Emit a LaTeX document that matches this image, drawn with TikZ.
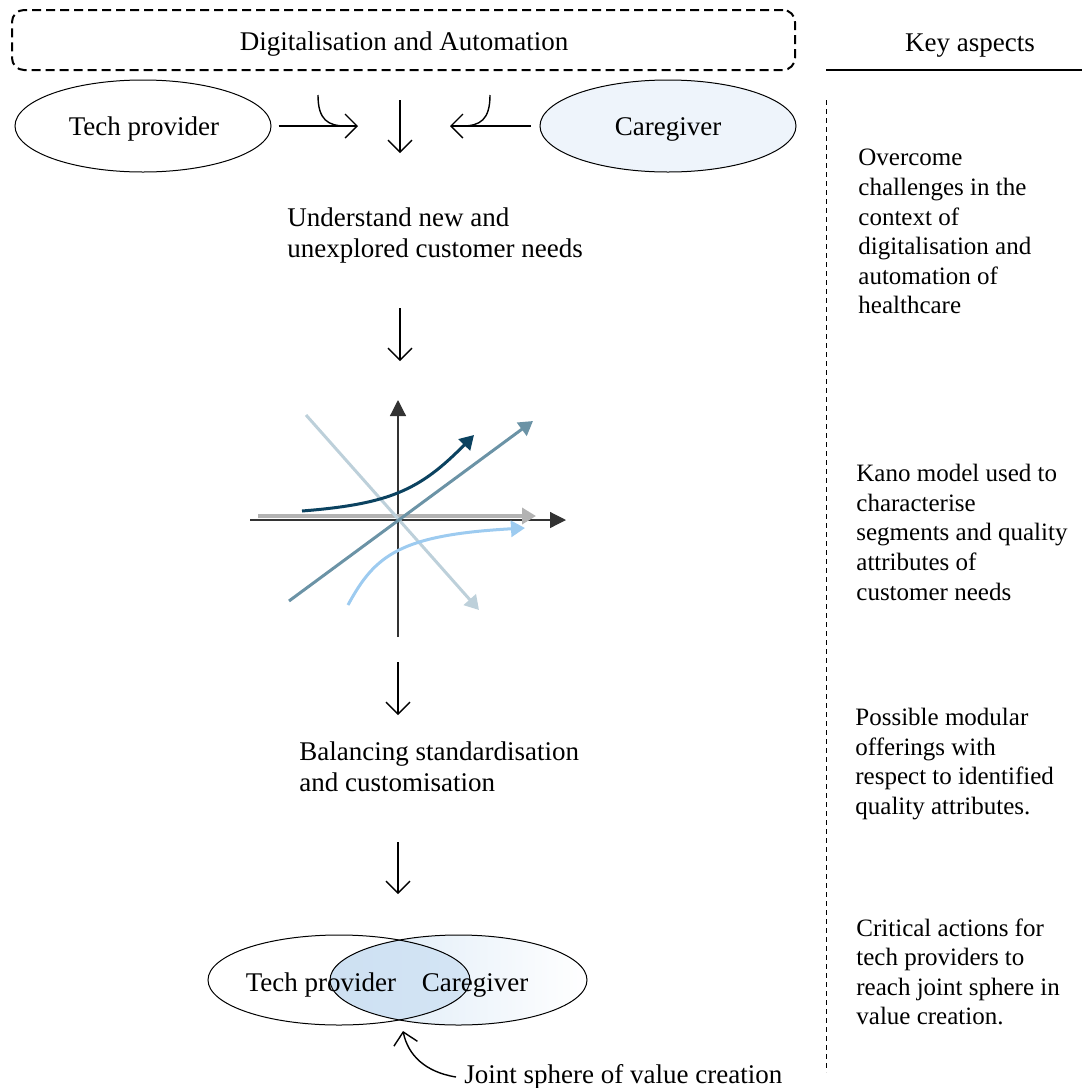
\documentclass[tikz,border=0pt]{standalone}
\usepackage{fontspec}
\setmainfont{Liberation Serif}
\usetikzlibrary{arrows.meta,shapes.geometric}
\definecolor{cgfill}{RGB}{238,244,251}
\definecolor{venlight}{RGB}{218,233,246}
\definecolor{veninter}{RGB}{205,224,242}
\definecolor{kanolight}{RGB}{189,208,218}
\definecolor{kanosteel}{RGB}{107,147,166}
\definecolor{kanonavy}{RGB}{11,66,96}
\definecolor{kanogray}{RGB}{179,179,179}
\definecolor{kanosky}{RGB}{157,203,240}
\begin{document}
\begin{tikzpicture}[x=0.5pt,y=-0.5pt,
  txt/.style={font=\fontsize{13.5}{16}\selectfont, inner sep=0pt},
  ctxt/.style={font=\fontsize{13.5}{15.8}\selectfont, inner sep=0pt, align=left},
  rtxt/.style={font=\fontsize{12.5}{14.8}\selectfont, inner sep=0pt, align=left, anchor=north west},
  actor/.style={ellipse, draw, line width=0.5pt, minimum width=128pt, minimum height=46pt, inner sep=0pt, font=\fontsize{13.5}{16}\selectfont},
  flow/.style={line width=0.7pt, -{Straight Barb[length=6pt,width=12pt,line width=0.7pt]}},
  kano/.style={line width=1.5pt, -{Triangle[length=7pt,width=8pt]}},
  axis/.style={line width=0.6pt, draw=black!80, -{Triangle[length=8pt,width=8pt]}}
]
\useasboundingbox (0,0) rectangle (1082,1088);

% header
\node[draw, dashed, dash pattern=on 4.5pt off 2.5pt, line width=1pt, rounded corners=6pt,
  minimum width=391.5pt, minimum height=30pt, txt] (hdr) at (403.5,40) {};
\node[txt] (hdrt) at (404,44) {Digitalisation and Automation};
\node[txt] (key) at (970,46) {Key aspects};
\coordinate (kl1) at (826,70);
\coordinate (kl2) at (1082,70);
\draw[line width=0.6pt] (kl1) -- (kl2);
\coordinate (vd1) at (826,100);
\coordinate (vd2) at (826,1072);
\draw[line width=0.5pt, dash pattern=on 2.5pt off 2pt] (vd1) -- (vd2);

% actors
\node[actor] (tp) at (143,126) {};
\node[actor, fill=cgfill] (cg) at (668,126) {};
\node[txt] (tpt) at (144,129) {Tech provider};
\node[txt] (cgt) at (668,129) {Caregiver};

\coordinate (m1) at (358,126);
\coordinate (m2) at (450,126);
\draw[flow] ([xshift=3.5pt]tp.east) -- (m1);
\draw[flow] ([xshift=-4.5pt]cg.west) -- (m2);
\coordinate (h1) at (318,95);
\coordinate (h2) at (490,95);
\draw[line width=0.7pt] (h1) .. controls (318,120) and (328,126) .. (346,126);
\draw[line width=0.7pt] (h2) .. controls (490,120) and (480,126) .. (462,126);

\coordinate (d1a) at (400,100);
\coordinate (d1b) at (400,153);
\draw[flow] (d1a) -- (d1b);

\node[ctxt, anchor=north west] (need) at (287,207) {Understand new and\\unexplored customer needs};

\coordinate (d2a) at (400,308);
\coordinate (d2b) at (400,361);
\draw[flow] (d2a) -- (d2b);

% Kano chart
\coordinate (o) at (398,520);
\coordinate (yb) at (398,637);
\coordinate (yt) at (398,400);
\coordinate (xl) at (250,520);
\coordinate (xr) at (566,520);
\draw[axis] (yb) -- (yt);
\draw[axis] (xl) -- (xr);
\coordinate (g1) at (258,516);
\coordinate (g2) at (536,516);
\draw[kano, draw=kanogray, line width=2pt] (g1) -- (g2);
\coordinate (l1) at (306,415);
\coordinate (l2) at (479,610);
\draw[kano, draw=kanolight] (l1) -- (l2);
\coordinate (s1) at (289,601);
\coordinate (s2) at (533,421);
\draw[kano, draw=kanosteel] (s1) -- (s2);
\coordinate (n1) at (302,511);
\coordinate (n2) at (474,435);
\draw[kano, draw=kanonavy] (n1) .. controls (390,504) and (420,490) .. (n2);
\coordinate (b1) at (348,605);
\coordinate (b2) at (525,528);
\draw[kano, draw=kanosky] (b1) .. controls (375,555) and (400,535) .. (b2);

\coordinate (d3a) at (398,662);
\coordinate (d3b) at (398,715);
\draw[flow] (d3a) -- (d3b);

\node[ctxt, anchor=north west] (bal) at (299,741) {Balancing standardisation\\and customisation};

\coordinate (d4a) at (398,842);
\coordinate (d4b) at (398,894);
\draw[flow] (d4a) -- (d4b);

% Venn
\shade[left color=venlight, right color=white] (458.5,980) ellipse [x radius=128.5, y radius=45];
\begin{scope}
  \clip (339,980) ellipse [x radius=131, y radius=45];
  \shade[left color=veninter, right color=venlight] (458.5,980) ellipse [x radius=128.5, y radius=45];
\end{scope}
\node[ellipse, draw, line width=0.5pt, minimum width=131pt, minimum height=45pt] (vl) at (339,980) {};
\node[ellipse, draw, line width=0.5pt, minimum width=128.5pt, minimum height=45pt] (vr) at (458.5,980) {};
\node[txt] (vlt) at (321,985) {Tech provider};
\node[txt] (vrt) at (475,985) {Caregiver};

\node[txt, anchor=west] (joint) at (464,1077) {Joint sphere of value creation};
\coordinate (jt) at (403,1031);
\draw[flow] ([xshift=-4pt]joint.west) .. controls (425,1072) and (408,1055) .. (jt);

% right column
\node[rtxt] (k1) at (858,149) {Overcome\\challenges in the\\context of\\digitalisation and\\automation of\\healthcare};
\node[rtxt] (k2) at (856,464) {Kano model used to\\characterise\\segments and quality\\attributes of\\customer needs};
\node[rtxt] (k3) at (855,708) {Possible modular\\offerings with\\respect to identified\\quality attributes.};
\node[rtxt] (k4) at (856,918) {Critical actions for\\tech providers to\\reach joint sphere in\\value creation.};
\end{tikzpicture}
\end{document}
